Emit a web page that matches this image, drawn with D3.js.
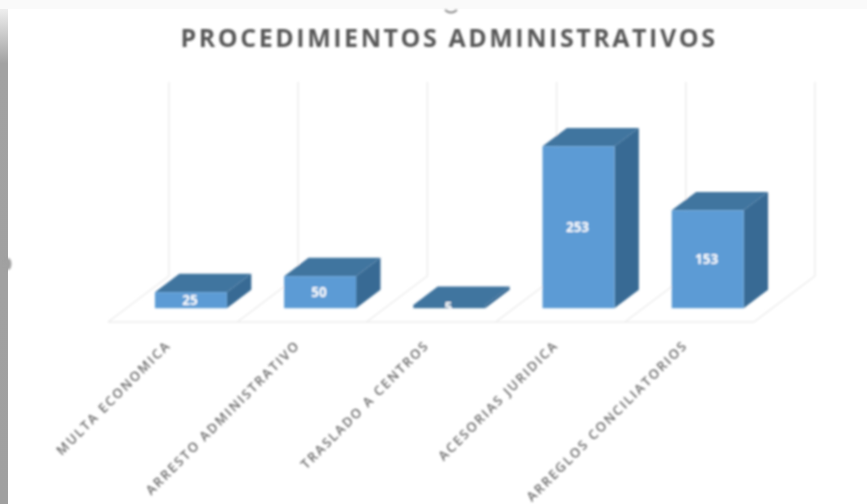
<!DOCTYPE html>
<html>
<head>
<meta charset="utf-8">
<script src="https://cdn.jsdelivr.net/npm/d3@7"></script>
<style>
  body { margin: 0; background: #fff; }
  svg { display: block; }
  text { font-family: "Open Sans", sans-serif; }
</style>
</head>
<body>
<div id="chart"></div>
<script>
const categories = ['MULTA ECONOMICA', 'ARRESTO ADMINISTRATIVO', 'TRASLADO A CENTROS', 'ACESORIAS JURIDICA', 'ARREGLOS CONCILIATORIOS'];
const values = [25, 50, 5, 253, 153];
const chartTitle = 'PROCEDIMIENTOS ADMINISTRATIVOS';

const WIDTH = 867, HEIGHT = 504;
// fake 3d: how far the floor runs to the back, in px
const DEPTH_X = 61, DEPTH_Y = 46;
const BAR_FRONT = 0.3, BAR_BACK = 0.7;
const AXIS_MAX = 300;
// fronts thinner than this disappear into the top face in the reference
const MIN_FRONT = 5;

const svg = d3.select('#chart').append('svg')
    .attr('width', WIDTH)
    .attr('height', HEIGHT);

// the picture is a soft screenshot, so blur it a little
const defs = svg.append('defs');
const soft = defs.append('filter').attr('id', 'soft')
    .attr('filterUnits', 'userSpaceOnUse')
    .attr('x', 0).attr('y', 0)
    .attr('width', WIDTH).attr('height', HEIGHT);
soft.append('feGaussianBlur').attr('stdDeviation', 0.8);

const strip = defs.append('linearGradient').attr('id', 'strip')
    .attr('gradientUnits', 'userSpaceOnUse')
    .attr('x1', 0).attr('x2', 0).attr('y1', 9).attr('y2', HEIGHT);
strip.append('stop').attr('offset', '0%').attr('stop-color', '#eeeeee');
strip.append('stop').attr('offset', '11%').attr('stop-color', '#a2a2a2');
strip.append('stop').attr('offset', '100%').attr('stop-color', '#a0a0a0');

// screenshot edges
svg.append('rect').attr('width', WIDTH).attr('height', 9).attr('fill', '#fafafa');
svg.append('rect').attr('x', 0).attr('y', 9).attr('width', 8).attr('height', HEIGHT - 9).attr('fill', 'url(#strip)');

const chart = svg.append('g').attr('filter', 'url(#soft)');

// leftovers of the screenshot: the notch on the edge and the cut off mark above the title
chart.append('ellipse')
    .attr('cx', 8).attr('cy', 264).attr('rx', 3.5).attr('ry', 6)
    .attr('fill', '#a0a0a0');
chart.append('path')
    .attr('d', 'M445,10 Q451,15 457,10')
    .attr('fill', 'none')
    .attr('stroke', '#8a8a8a')
    .attr('stroke-width', 2);

const x = d3.scaleBand()
    .domain(categories)
    .range([108, 754])
    .paddingInner(0.443)
    .paddingOuter(0.2215);

const y = d3.scaleLinear()
    .domain([0, AXIS_MAX])
    .range([322, 130]);

const step = x.step();
const slotStart = d => x(d) - x.paddingOuter() * step;
const slots = categories.map(slotStart).concat(x.range()[1]);

const px = (xVal, depth) => xVal + depth * DEPTH_X;
const py = (val, depth) => y(val) - depth * DEPTH_Y;
const pts = arr => arr.map(p => p.join(',')).join(' ');
const frontHeight = v => py(0, BAR_FRONT) - py(v, BAR_FRONT);

// walls
chart.selectAll('line.wall')
    .data(slots)
    .join('line')
    .attr('class', 'wall')
    .attr('x1', d => px(d, 1))
    .attr('x2', d => px(d, 1))
    .attr('y1', py(0, 1))
    .attr('y2', py(AXIS_MAX, 1) - 2)
    .attr('stroke', '#ececec')
    .attr('stroke-width', 1.4);

// floor dividers
chart.selectAll('line.floor')
    .data(slots)
    .join('line')
    .attr('class', 'floor')
    .attr('x1', d => px(d, 0))
    .attr('x2', d => px(d, 1))
    .attr('y1', py(0, 0))
    .attr('y2', py(0, 1))
    .attr('stroke', '#ececec')
    .attr('stroke-width', 1.4);

chart.append('line')
    .attr('x1', x.range()[0]).attr('x2', x.range()[1])
    .attr('y1', py(0, 0)).attr('y2', py(0, 0))
    .attr('stroke', '#ececec')
    .attr('stroke-width', 1.4);

const bars = chart.selectAll('g.bar')
    .data(categories.map((c, i) => ({ name: c, value: values[i] })))
    .join('g')
    .attr('class', 'bar');

// side
bars.append('polygon')
    .attr('fill', '#386a94')
    .attr('points', d => {
        const r = x(d.name) + x.bandwidth();
        return pts([
            [px(r, BAR_FRONT), py(0, BAR_FRONT)],
            [px(r, BAR_BACK), py(0, BAR_BACK)],
            [px(r, BAR_BACK), py(d.value, BAR_BACK)],
            [px(r, BAR_FRONT), py(d.value, BAR_FRONT)]
        ]);
    });

// top
bars.append('polygon')
    .attr('fill', '#41749f')
    .attr('points', d => {
        const l = x(d.name), r = l + x.bandwidth();
        return pts([
            [px(l, BAR_FRONT), py(d.value, BAR_FRONT)],
            [px(r, BAR_FRONT), py(d.value, BAR_FRONT)],
            [px(r, BAR_BACK), py(d.value, BAR_BACK)],
            [px(l, BAR_BACK), py(d.value, BAR_BACK)]
        ]);
    });

// front
bars.append('rect')
    .attr('fill', d => frontHeight(d.value) < MIN_FRONT ? '#41749f' : '#5b9bd5')
    .attr('x', d => px(x(d.name), BAR_FRONT))
    .attr('width', x.bandwidth())
    .attr('y', d => py(d.value, BAR_FRONT))
    .attr('height', d => frontHeight(d.value));

// labels get cut at the bar base (the 5 is only half visible)
defs.append('clipPath').attr('id', 'baseClip')
    .append('rect')
    .attr('x', 0).attr('y', 0)
    .attr('width', WIDTH)
    .attr('height', py(0, BAR_FRONT));

bars.append('text')
    .attr('clip-path', 'url(#baseClip)')
    .attr('x', d => px(x(d.name), BAR_FRONT) + x.bandwidth() / 2 - 1)
    .attr('y', d => (py(d.value, BAR_FRONT) + py(0, BAR_FRONT)) / 2 + 5)
    .attr('text-anchor', 'middle')
    .attr('font-size', 13.5)
    .attr('font-weight', 700)
    .attr('fill', '#fff')
    .text(d => d.value);

// category labels, rotated, ending under the back of each slot
chart.selectAll('text.cat')
    .data(categories)
    .join('text')
    .attr('class', 'cat')
    .attr('transform', d => `translate(${x(d) + x.bandwidth() / 2 - 1},346) rotate(-45)`)
    .attr('text-anchor', 'end')
    .attr('font-size', 13)
    .attr('font-weight', 600)
    .attr('letter-spacing', 1.9)
    .attr('fill', '#6a6a6a')
    .text(d => d);

chart.append('text')
    .attr('x', 449)
    .attr('y', 46.5)
    .attr('text-anchor', 'middle')
    .attr('font-size', 25)
    .attr('font-weight', 700)
    .attr('letter-spacing', 2.55)
    .attr('fill', '#595959')
    .text(chartTitle);
</script>
</body>
</html>
